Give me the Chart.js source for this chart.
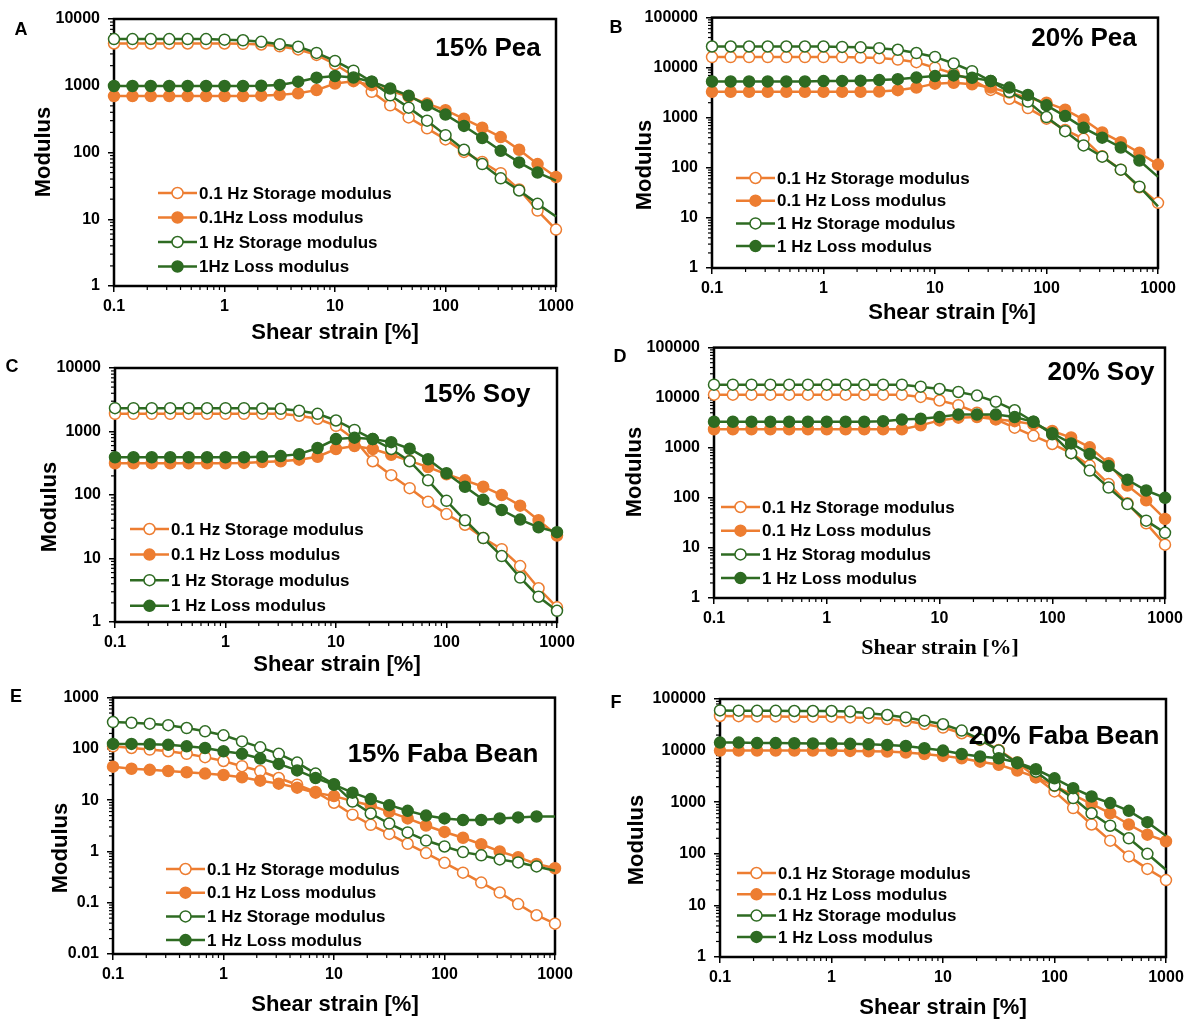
<!DOCTYPE html>
<html>
<head>
<meta charset="utf-8">
<script src="https://cdn.jsdelivr.net/npm/chart.js@4.4.1/dist/chart.umd.min.js"></script>
<style>
  body { margin: 0; background: #fff; }
  #wrap { position: relative; width: 1189px; height: 1021px; overflow: hidden; }
  #wrap canvas { position: absolute; }
</style>
</head>
<body>
<div id="wrap">
  <canvas id="cA"></canvas>
  <canvas id="cB"></canvas>
  <canvas id="cC"></canvas>
  <canvas id="cD"></canvas>
  <canvas id="cE"></canvas>
  <canvas id="cF"></canvas>
</div>
<script>
// shear strain [%] points (same for every panel)
const strain = [0.1, 0.147, 0.215, 0.316, 0.464, 0.681, 1, 1.47, 2.15, 3.16, 4.64, 6.81, 10, 14.7, 21.5, 31.6, 46.4, 68.1, 100, 147, 215, 316, 464, 681, 1000];

const xTicks = [0.1, 1, 10, 100, 1000];
const yTicks4 = [1, 10, 100, 1000, 10000];
const yTicks5 = [1, 10, 100, 1000, 10000, 100000];
const yTicksFaba15 = [0.01, 0.1, 1, 10, 100, 1000];

const legendA = ['0.1 Hz Storage modulus', '0.1Hz Loss modulus', '1 Hz Storage modulus', '1Hz Loss modulus'];
const legendStd = ['0.1 Hz Storage modulus', '0.1 Hz Loss modulus', '1 Hz Storage modulus', '1 Hz Loss modulus'];
const legendD = ['0.1 Hz Storage modulus', '0.1 Hz Loss modulus', '1 Hz Storag modulus', '1 Hz Loss modulus'];

// A - 15% Pea
const pea15_storage01 = [4300, 4300, 4300, 4300, 4300, 4300, 4300, 4250, 4150, 3900, 3500, 2900, 2100, 1400, 810, 510, 335, 230, 157, 102, 72, 49, 28, 13.5, 7];
const pea15_loss01 = [700, 700, 700, 700, 700, 700, 700, 700, 710, 730, 770, 860, 1080, 1170, 1020, 840, 690, 540, 430, 320, 235, 170, 110, 67, 43];
const pea15_storage1 = [5000, 5000, 5000, 5000, 5000, 5000, 4900, 4800, 4550, 4200, 3850, 3100, 2350, 1680, 1150, 720, 470, 300, 182, 110, 67, 41, 27, 17, 11];
const pea15_loss1 = [990, 990, 990, 990, 990, 990, 990, 990, 1000, 1030, 1150, 1320, 1400, 1330, 1150, 910, 710, 510, 370, 250, 165, 106, 71, 50, 38];

// B - 20% Pea
const pea20_storage01 = [16300, 16300, 16300, 16300, 16300, 16300, 16300, 16300, 16000, 15600, 14500, 12900, 10000, 7600, 5700, 3600, 2400, 1560, 960, 570, 380, 170, 92, 41, 20];
const pea20_loss01 = [3300, 3300, 3300, 3300, 3300, 3300, 3300, 3300, 3300, 3350, 3550, 4000, 4800, 5000, 4650, 4000, 3200, 2500, 2000, 1450, 920, 510, 325, 200, 116];
const pea20_storage1 = [26500, 26500, 26500, 26500, 26500, 26500, 26500, 26000, 25500, 24500, 22800, 19600, 16400, 12100, 8500, 5400, 3300, 2100, 1030, 540, 280, 167, 92, 42, 17];
const pea20_loss1 = [5300, 5300, 5300, 5300, 5300, 5300, 5400, 5450, 5500, 5650, 5900, 6350, 6800, 7000, 6300, 5450, 4000, 2850, 1770, 1080, 630, 400, 255, 140, 66];

// C - 15% Soy
const soy15_storage01 = [1900, 1900, 1900, 1900, 1900, 1900, 1900, 1900, 1900, 1900, 1770, 1590, 1230, 750, 340, 205, 128, 78, 50, 34, 21, 14, 7.6, 3.4, 1.7];
const soy15_loss01 = [316, 316, 316, 316, 316, 316, 316, 320, 330, 340, 360, 400, 530, 590, 530, 430, 345, 275, 212, 170, 135, 100, 68, 40, 23];
const soy15_storage1 = [2330, 2330, 2330, 2330, 2330, 2330, 2330, 2330, 2300, 2280, 2120, 1900, 1490, 1060, 760, 530, 340, 170, 81, 40, 21, 10.9, 5, 2.5, 1.5];
const soy15_loss1 = [393, 393, 393, 393, 393, 393, 393, 393, 400, 410, 440, 550, 760, 800, 760, 680, 535, 365, 220, 135, 84, 58, 41, 31, 26];

// D - 20% Soy
const soy20_storage01 = [11500, 11500, 11500, 11500, 11500, 11500, 11500, 11500, 11500, 11500, 11500, 10350, 8780, 7100, 5000, 3700, 2520, 1730, 1190, 780, 440, 190, 78, 31, 11.6];
const soy20_loss01 = [2340, 2340, 2340, 2340, 2340, 2340, 2340, 2340, 2340, 2340, 2340, 2800, 3520, 3990, 4100, 3700, 3400, 2930, 2160, 1600, 1020, 490, 176, 89, 38];
const soy20_storage1 = [18200, 18200, 18200, 18200, 18200, 18200, 18200, 18200, 18200, 18200, 18200, 16600, 14900, 13000, 11000, 8300, 5600, 3300, 1860, 780, 350, 160, 75, 35, 20];
const soy20_loss1 = [3310, 3310, 3310, 3310, 3310, 3310, 3310, 3310, 3310, 3400, 3650, 3800, 4100, 4600, 4600, 4600, 4100, 3300, 1950, 1220, 750, 430, 230, 140, 100];

// E - 15% Faba Bean
const faba15_storage01 = [112, 104, 97, 90, 80, 69, 58, 46, 37, 27, 20, 14.5, 8.9, 5.2, 3.3, 2.2, 1.41, 0.93, 0.6, 0.385, 0.247, 0.158, 0.094, 0.057, 0.039];
const faba15_loss01 = [45, 41, 39, 37, 35, 33, 31, 28, 24, 21, 17.5, 14, 12, 9.6, 7.9, 5.9, 4.4, 3.2, 2.4, 1.85, 1.38, 1.0, 0.77, 0.57, 0.47];
const faba15_storage1 = [333, 323, 310, 290, 255, 220, 184, 140, 107, 80, 54, 33, 20.5, 9.4, 5.5, 3.5, 2.35, 1.63, 1.25, 0.97, 0.84, 0.7, 0.61, 0.51, 0.42];
const faba15_loss1 = [125, 125, 123, 120, 112, 104, 90, 80, 65, 51, 38, 27, 20, 14, 10.5, 8, 6.2, 5, 4.4, 4.1, 4.1, 4.4, 4.6, 4.8, 4.8];

// F - 20% Faba Bean
const faba20_storage01 = [46900, 46500, 46000, 46000, 45500, 45500, 45500, 44000, 43500, 41000, 37500, 32800, 28000, 21700, 16100, 10300, 5900, 3050, 1620, 770, 370, 180, 89, 51, 31];
const faba20_loss01 = [10000, 10000, 10000, 10000, 10000, 10000, 10000, 9850, 9700, 9600, 9200, 8600, 7900, 7100, 6100, 5300, 4100, 3050, 2070, 1390, 930, 610, 370, 235, 175];
const faba20_storage1 = [60000, 59500, 59000, 59000, 58500, 58500, 58500, 57000, 52800, 49000, 44000, 38000, 32400, 24400, 16500, 10000, 5700, 3900, 2100, 1200, 610, 350, 200, 100, 49];
const faba20_loss1 = [14300, 14300, 14000, 14000, 13900, 13800, 13700, 13500, 13300, 12900, 12300, 11100, 10000, 8600, 7700, 7100, 5900, 4350, 2900, 1870, 1290, 960, 680, 410, 223];

const ORANGE = '#ED7D31';
const GREEN = '#2E6B22';
const SANS = "'Liberation Sans', Arial, sans-serif";
const SERIF = "'Liberation Serif', 'Times New Roman', serif";

// page layout for each panel: canvas box, plot area (page px) and text anchors
// greenNoEnd: the 1 Hz curves have no marker on the 1000 % point
const panels = [
  { id: 'cA', box: [0, 0, 595, 345], area: [114, 19, 556, 286], letter: 'A', letterAt: [21, 30],
    title: '15% Pea', titleAt: [488, 49], yTitleAt: [44, 152], xTitleAt: [335, 333],
    legendAt: [158, 193, 24.5], labels: legendA, yTicks: yTicks4, greenNoEnd: true,
    series: [pea15_storage01, pea15_loss01, pea15_storage1, pea15_loss1] },
  { id: 'cB', box: [595, 0, 594, 330], area: [712, 14, 1158, 268], letter: 'B', letterAt: [616, 28],
    title: '20% Pea', titleAt: [1084, 39], yTitleAt: [645, 165], xTitleAt: [952, 313],
    legendAt: [736, 178, 22.7], labels: legendStd, yTicks: yTicks5, greenNoEnd: true,
    series: [pea20_storage01, pea20_loss01, pea20_storage1, pea20_loss1] },
  { id: 'cC', box: [0, 345, 595, 335], area: [115, 368, 557, 622], letter: 'C', letterAt: [12, 367],
    title: '15% Soy', titleAt: [477, 395], yTitleAt: [50, 507], xTitleAt: [337, 665],
    legendAt: [130, 529, 25.6], labels: legendStd, yTicks: yTicks4, greenNoEnd: false,
    series: [soy15_storage01, soy15_loss01, soy15_storage1, soy15_loss1] },
  { id: 'cD', box: [595, 330, 594, 350], area: [714, 346, 1165, 598], letter: 'D', letterAt: [620, 357],
    title: '20% Soy', titleAt: [1101, 373], yTitleAt: [635, 472], xTitleAt: [940, 648], serifX: true,
    legendAt: [721, 507, 23.7], labels: legendD, yTicks: yTicks5, greenNoEnd: false,
    series: [soy20_storage01, soy20_loss01, soy20_storage1, soy20_loss1] },
  { id: 'cE', box: [0, 680, 595, 341], area: [113, 696, 555, 954], letter: 'E', letterAt: [16, 697],
    title: '15% Faba Bean', titleAt: [443, 755], yTitleAt: [61, 848], xTitleAt: [335, 1005],
    legendAt: [166, 869, 23.7], labels: legendStd, yTicks: yTicksFaba15, greenNoEnd: true,
    series: [faba15_storage01, faba15_loss01, faba15_storage1, faba15_loss1] },
  { id: 'cF', box: [595, 680, 594, 341], area: [720, 699, 1166, 957], letter: 'F', letterAt: [616, 703],
    title: '20% Faba Bean', titleAt: [1064, 737], yTitleAt: [637, 840], xTitleAt: [943, 1008],
    legendAt: [737, 873, 21.3], labels: legendStd, yTicks: yTicks5, greenNoEnd: true,
    series: [faba20_storage01, faba20_loss01, faba20_storage1, faba20_loss1] }
];

// colour, hollow marker, draw order (lower = on top) for the 4 series
const seriesStyle = [
  { color: ORANGE, open: true, order: 4, green: false },
  { color: ORANGE, open: false, order: 3, green: false },
  { color: GREEN, open: true, order: 2, green: true },
  { color: GREEN, open: false, order: 1, green: true }
];

function decoPlugin(p) {
  const ox = p.box[0], oy = p.box[1];
  return {
    id: 'deco',
    beforeDatasetsDraw(chart) {
      const ctx = chart.ctx, a = chart.chartArea;
      const xs = chart.scales.x, ys = chart.scales.y;
      ctx.save();
      ctx.strokeStyle = '#000';
      ctx.lineWidth = 1.2;
      // minor ticks, outward
      for (let d = Math.round(Math.log10(xTicks[0])); d < Math.round(Math.log10(xTicks[xTicks.length - 1])); d++) {
        for (let k = 2; k <= 9; k++) {
          const px = xs.getPixelForValue(k * Math.pow(10, d));
          ctx.beginPath(); ctx.moveTo(px, a.bottom); ctx.lineTo(px, a.bottom + 4); ctx.stroke();
        }
      }
      const yt = p.yTicks;
      for (let d = Math.round(Math.log10(yt[0])); d < Math.round(Math.log10(yt[yt.length - 1])); d++) {
        for (let k = 2; k <= 9; k++) {
          const py = ys.getPixelForValue(k * Math.pow(10, d));
          ctx.beginPath(); ctx.moveTo(a.left, py); ctx.lineTo(a.left - 4, py); ctx.stroke();
        }
      }
      ctx.lineWidth = 2.5;
      ctx.strokeRect(a.left, a.top, a.right - a.left, a.bottom - a.top);
      ctx.restore();
    },
    afterDraw(chart) {
      const ctx = chart.ctx;
      ctx.save();
      ctx.fillStyle = '#000';
      ctx.textBaseline = 'middle';

      ctx.textAlign = 'center';
      ctx.font = 'bold 18px ' + SANS;
      ctx.fillText(p.letter, p.letterAt[0] - ox, p.letterAt[1] - oy);

      ctx.font = 'bold 26px ' + SANS;
      ctx.fillText(p.title, p.titleAt[0] - ox, p.titleAt[1] - oy);

      ctx.font = 'bold 22px ' + (p.serifX ? SERIF : SANS);
      ctx.fillText('Shear strain [%]', p.xTitleAt[0] - ox, p.xTitleAt[1] - oy);

      ctx.save();
      ctx.translate(p.yTitleAt[0] - ox, p.yTitleAt[1] - oy);
      ctx.rotate(-Math.PI / 2);
      ctx.font = 'bold 22px ' + SANS;
      ctx.fillText('Modulus', 0, 0);
      ctx.restore();

      // legend inside the plot
      const lx = p.legendAt[0] - ox;
      ctx.font = 'bold 17px ' + SANS;
      ctx.textAlign = 'left';
      p.labels.forEach((lab, i) => {
        const st = seriesStyle[i];
        const ly = p.legendAt[1] - oy + i * p.legendAt[2];
        ctx.strokeStyle = st.color;
        ctx.lineWidth = 2.5;
        ctx.beginPath(); ctx.moveTo(lx, ly); ctx.lineTo(lx + 39, ly); ctx.stroke();
        ctx.beginPath(); ctx.arc(lx + 19.5, ly, 5.5, 0, Math.PI * 2);
        ctx.fillStyle = st.open ? '#fff' : st.color;
        ctx.fill();
        ctx.lineWidth = 1.5;
        ctx.stroke();
        ctx.fillStyle = '#000';
        ctx.fillText(lab, lx + 41, ly + 1);
      });
      ctx.restore();
    }
  };
}

panels.forEach(p => {
  const [bx, by, bw, bh] = p.box;
  const [al, at, ar, ab] = [p.area[0] - bx, p.area[1] - by, p.area[2] - bx, p.area[3] - by];
  const canvas = document.getElementById(p.id);
  canvas.width = bw;
  canvas.height = bh;
  canvas.style.left = bx + 'px';
  canvas.style.top = by + 'px';
  const last = strain.length - 1;

  const datasets = p.series.map((vals, i) => {
    const st = seriesStyle[i];
    const noEnd = p.greenNoEnd && st.green;
    return {
      label: p.labels[i],
      data: strain.map((x, j) => ({ x: x, y: vals[j] })),
      borderColor: st.color,
      backgroundColor: st.color,
      borderWidth: 2.5,
      pointBackgroundColor: st.open ? '#fff' : st.color,
      pointBorderColor: st.color,
      pointBorderWidth: 1.5,
      pointRadius: ctx => (noEnd && ctx.dataIndex === last) ? 0 : 5.5,
      tension: 0,
      clip: false,
      order: st.order
    };
  });

  new Chart(canvas, {
    type: 'line',
    data: { datasets: datasets },
    options: {
      responsive: false,
      animation: false,
      events: [],
      layout: { padding: { left: 0, top: at, right: bw - ar, bottom: 0 } },
      plugins: { legend: { display: false }, tooltip: { enabled: false } },
      scales: {
        x: {
          type: 'logarithmic',
          min: xTicks[0],
          max: xTicks[xTicks.length - 1],
          afterBuildTicks: s => { s.ticks = xTicks.map(v => ({ value: v })); },
          afterFit: s => { s.height = bh - ab; },
          grid: { drawOnChartArea: false, drawTicks: true, tickLength: 6, color: '#000', lineWidth: 1.5 },
          border: { display: false },
          ticks: { color: '#000', padding: 5, maxRotation: 0, font: { family: SANS, size: 16, weight: 'bold' },
                   callback: v => String(v) }
        },
        y: {
          type: 'logarithmic',
          min: p.yTicks[0],
          max: p.yTicks[p.yTicks.length - 1],
          afterBuildTicks: s => { s.ticks = p.yTicks.map(v => ({ value: v })); },
          afterFit: s => { s.width = al; },
          grid: { drawOnChartArea: false, drawTicks: true, tickLength: 6, color: '#000', lineWidth: 1.5 },
          border: { display: false },
          ticks: { color: '#000', padding: 8, font: { family: SANS, size: 16, weight: 'bold' },
                   callback: v => String(v) }
        }
      }
    },
    plugins: [decoPlugin(p)]
  });
});
</script>
</body>
</html>
